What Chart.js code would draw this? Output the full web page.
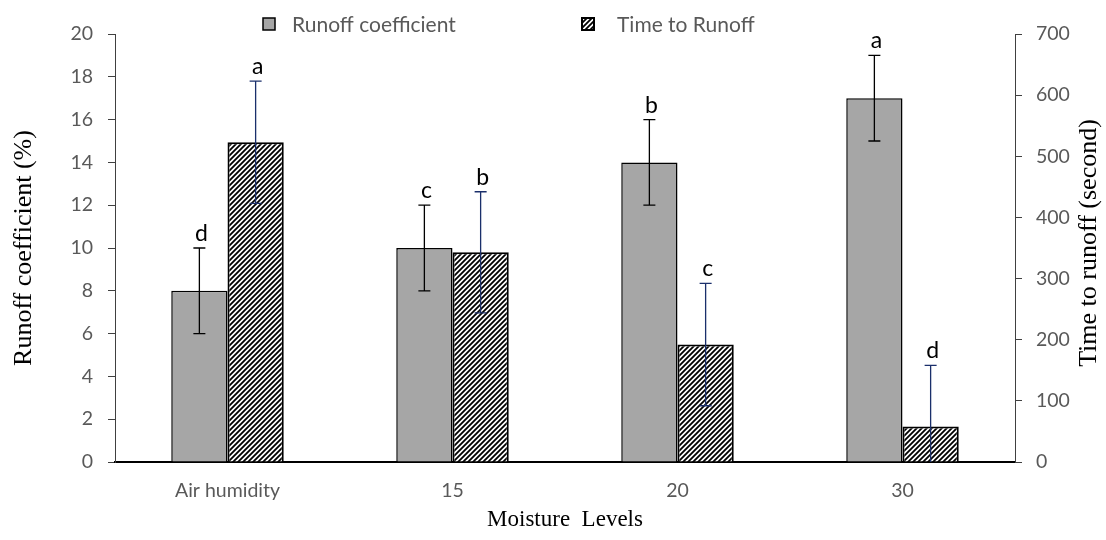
<!DOCTYPE html>
<html><head><meta charset="utf-8">
<script src="https://cdn.jsdelivr.net/npm/chart.js@4"></script>
<style>html,body{margin:0;padding:0;background:#fff}#wrap{width:1106px;height:540px}</style>
</head><body><div id="wrap"><canvas id="c" width="1106" height="540"></canvas></div>
<script>
const categories = ['Air humidity', '15', '20', '30'];
const runoffCoef = [8, 10, 14, 17];
const runoffCoefErr = [2, 2, 2, 2];
const runoffCoefLetters = ['d', 'c', 'b', 'a'];
const timeToRunoff = [523, 343, 192, 58];
const timeToRunoffErr = [100, 99, 100, 100];
const timeToRunoffLetters = ['a', 'b', 'c', 'd'];
const seriesNames = ['Runoff coefficient', 'Time to Runoff'];
const axisTitles = {x: 'Moisture  Levels', y: 'Runoff coefficient (%)', y1: 'Time to runoff (second)'};

const canvas = document.getElementById('c');
const ctx0 = canvas.getContext('2d');
function makeHatch() {
  const s = 5;
  const c = document.createElement('canvas'); c.width = s; c.height = s;
  const g = c.getContext('2d');
  g.fillStyle = '#fff'; g.fillRect(0, 0, s, s);
  g.strokeStyle = '#000'; g.lineWidth = 1.8;
  g.beginPath();
  g.moveTo(-1, s + 1); g.lineTo(s + 1, -1);
  g.moveTo(-1, 1); g.lineTo(1, -1);
  g.moveTo(s - 1, s + 1); g.lineTo(s + 1, s - 1);
  g.stroke();
  return ctx0.createPattern(c, 'repeat');
}
const hatch = makeHatch();
const grayFill = '#a6a6a6';
const errs = [runoffCoefErr, timeToRunoffErr];
const letters = [runoffCoefLetters, timeToRunoffLetters];
const errColors = ['#000000', '#1a2f6b'];
const tickFont = {family: 'Lato', size: 19.5};
const serif = 'Liberation Serif';

const errorPlugin = {
  id: 'errs',
  afterDatasetsDraw(chart) {
    const ctx = chart.ctx;
    chart.data.datasets.forEach((ds, i) => {
      const meta = chart.getDatasetMeta(i);
      const sc = chart.scales[ds.yAxisID];
      meta.data.forEach((bar, j) => {
        const v = ds.data[j], e = errs[i][j];
        const x = bar.x;
        const yt = sc.getPixelForValue(v + e);
        const yb = sc.getPixelForValue(Math.max(sc.min, v - e));
        ctx.save();
        ctx.strokeStyle = errColors[i]; ctx.lineWidth = 1.3;
        ctx.beginPath();
        ctx.moveTo(x, yt); ctx.lineTo(x, yb);
        ctx.moveTo(x - 6, yt); ctx.lineTo(x + 6, yt);
        if (v - e > sc.min) { ctx.moveTo(x - 6, yb); ctx.lineTo(x + 6, yb); }
        ctx.stroke();
        ctx.fillStyle = '#000';
        ctx.font = '23px Lato';
        ctx.textAlign = 'center'; ctx.textBaseline = 'alphabetic';
        ctx.fillText(letters[i][j], x + 2, yt - 7);
        ctx.restore();
      });
    });
  }
};

const legendPlugin = {
  id: 'customLegend',
  afterDraw(chart) {
    const ctx = chart.ctx;
    const items = [{x: 263, tx: 292, fill: grayFill, bw: 1.5}, {x: 582, tx: 617, fill: hatch, bw: 2}];
    ctx.save();
    items.forEach((it, i) => {
      ctx.fillStyle = it.fill;
      ctx.fillRect(it.x, 18, 12, 12);
      ctx.strokeStyle = '#000'; ctx.lineWidth = it.bw;
      ctx.strokeRect(it.x, 18, 12, 12);
      ctx.fillStyle = '#595959';
      ctx.font = '21px Lato';
      ctx.textAlign = 'left'; ctx.textBaseline = 'middle';
      ctx.fillText(seriesNames[i], it.tx, 25);
    });
    // right axis title, reading bottom to top
    const y1 = chart.scales.y1;
    ctx.translate(1089, (y1.top + y1.bottom) / 2 - 5);
    ctx.rotate(-Math.PI / 2);
    ctx.fillStyle = '#000';
    ctx.font = '26px "' + serif + '"';
    ctx.textAlign = 'center'; ctx.textBaseline = 'middle';
    ctx.fillText(axisTitles.y1, 0, 0);
    ctx.restore();
  }
};

new Chart(canvas, {
  type: 'bar',
  data: {
    labels: categories,
    datasets: [
      {label: seriesNames[0], data: runoffCoef, yAxisID: 'y', backgroundColor: grayFill, borderColor: '#000', borderWidth: 1.5, categoryPercentage: 0.5, barPercentage: 1.0},
      {label: seriesNames[1], data: timeToRunoff, yAxisID: 'y1', backgroundColor: hatch, borderColor: '#000', borderWidth: 2, categoryPercentage: 0.5, barPercentage: 1.0}
    ]
  },
  options: {
    responsive: false,
    animation: false,
    devicePixelRatio: 1,
    layout: {padding: {top: 34, left: 0, right: 0, bottom: 0}},
    plugins: {legend: {display: false}, tooltip: {enabled: false}},
    scales: {
      x: {
        grid: {display: false, drawTicks: false},
        border: {display: true, color: '#000', width: 2},
        ticks: {color: '#595959', font: tickFont, padding: 17},
        title: {display: true, text: axisTitles.x, color: '#000', font: {family: serif, size: 23}, padding: {top: 0, bottom: 6}},
        afterFit(s) { s.height = 78; }
      },
      y: {
        position: 'left', min: 0, max: 20,
        ticks: {stepSize: 2, color: '#595959', font: tickFont, padding: 15},
        grid: {drawOnChartArea: false, drawTicks: true, tickLength: 7, color: '#404040'},
        border: {display: true, color: '#404040', width: 1},
        title: {display: true, text: axisTitles.y, color: '#000', font: {family: serif, size: 26}, padding: {top: 9, bottom: 0}},
        afterFit(s) { s.width = 115; }
      },
      y1: {
        position: 'right', min: 0, max: 700,
        ticks: {stepSize: 100, color: '#595959', font: tickFont, padding: 14},
        grid: {drawOnChartArea: false, drawTicks: true, tickLength: 7, color: '#404040'},
        border: {display: true, color: '#404040', width: 1},
        title: {display: false},
        afterFit(s) { s.width = 91; }
      }
    }
  },
  plugins: [errorPlugin, legendPlugin]
});
</script>
</body></html>
